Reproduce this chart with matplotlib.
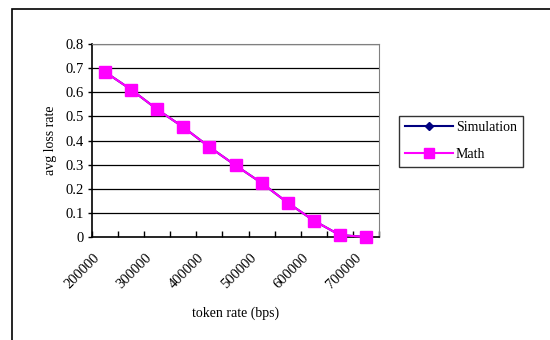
import matplotlib.pyplot as plt
from matplotlib.patches import Rectangle

plt.rcParams['font.family'] = ['Liberation Serif', 'DejaVu Serif']

# token rate (bps) vs average loss rate
token_rate = [200000, 250000, 300000, 350000, 400000, 450000,
              500000, 550000, 600000, 650000, 700000]
simulation = [0.684, 0.611, 0.529, 0.455, 0.373, 0.297, 0.224, 0.142, 0.068, 0.008, 0.0]
math_loss = [0.684, 0.611, 0.529, 0.455, 0.373, 0.297, 0.224, 0.142, 0.068, 0.008, 0.0]
y_ticks = [0, 0.1, 0.2, 0.3, 0.4, 0.5, 0.6, 0.7, 0.8]

fig = plt.figure(figsize=(5.5, 3.4), dpi=100)
W, H = 550, 340

# outer chart frame (runs past the right and bottom edges)
fig.patches.append(Rectangle((12 / W, -0.1), 1.2, 1 - 9 / H + 0.1,
                             transform=fig.transFigure, fill=False,
                             edgecolor='black', linewidth=1.2))

ax = fig.add_axes([92 / W, 1 - 237 / H, (379 - 92) / W, (237 - 44) / H])
x = list(range(len(token_rate)))

ax.plot(x, simulation, color='#000080', marker='D', markersize=5,
        linewidth=1.5, label='Simulation', zorder=3)
ax.plot(x, math_loss, color='#FF00FF', marker='s', markersize=9,
        linewidth=1.5, label='Math', zorder=4, clip_on=False)

ax.set_xlim(-0.5, len(x) - 0.5)
ax.set_ylim(0, 0.8)
ax.set_yticks(y_ticks)
ax.set_yticklabels(['0' if v == 0 else f'{v:.1f}' for v in y_ticks], fontsize=10.5)
for v in y_ticks[1:]:
    ax.axhline(v, color='black', linewidth=0.9, zorder=1)

# category boundaries as ticks, labels on every other category
ax.set_xticks([i - 0.5 for i in range(len(x) + 1)])
ax.set_xticklabels([])
ax.tick_params(axis='x', direction='in', length=4, width=1)
ax.set_xticks([i - 0.45 for i in x[::2]], minor=True)
ax.set_xticklabels([str(t) for t in token_rate[::2]], minor=True,
                   rotation=45, ha='right', va='top',
                   rotation_mode='anchor', fontsize=10.5)
ax.tick_params(axis='x', which='minor', length=0, pad=10)
ax.tick_params(axis='y', direction='out', length=3, width=1, pad=3)

for side in ('top', 'right'):
    ax.spines[side].set_color('#808080')
for side in ('left', 'bottom'):
    ax.spines[side].set_color('black')
    ax.spines[side].set_linewidth(1.2)

ax.set_ylabel('avg loss rate', fontsize=10, labelpad=6)
ax.set_xlabel('token rate (bps)', fontsize=10, labelpad=11)

leg = ax.legend(loc='center left', bbox_to_anchor=(399 / W, 1 - 141 / H),
                bbox_transform=fig.transFigure, fontsize=10, frameon=True,
                fancybox=False, edgecolor='black', borderpad=0.4,
                borderaxespad=0, handlelength=3.5, handletextpad=0.2,
                labelspacing=1.0, markerscale=0.8)
leg.get_frame().set_linewidth(1)

fig.savefig('out.png', dpi=100)
